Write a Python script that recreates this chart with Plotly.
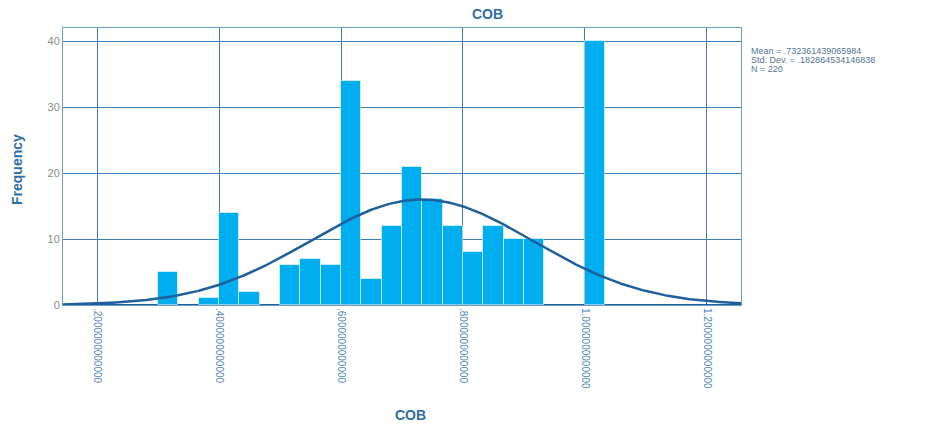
import numpy as np
import plotly.graph_objects as go

# Histogram of COB: lower bin edges (bin width 1/30) and frequencies
bin_width = 1 / 30
bin_starts = [0.3, 0.3667, 0.4, 0.4333, 0.5, 0.5333, 0.5667, 0.6, 0.6333,
              0.6667, 0.7, 0.7333, 0.7667, 0.8, 0.8333, 0.8667, 0.9, 1.0]
frequency = [5, 1, 14, 2, 6, 7, 6, 34, 4, 12, 21, 16, 12, 8, 12, 10, 10, 40]

# Summary statistics
mean = 0.732361439065984
std_dev = 0.182864534146838
n_obs = 220

x_ticks = [0.2, 0.4, 0.6, 0.8, 1.0, 1.2]
x_tick_text = [".2000000000000", ".4000000000000", ".6000000000000",
               ".8000000000000", "1.0000000000000", "1.2000000000000"]
y_ticks = [0, 10, 20, 30, 40]

x_range = [0.144, 1.256]
y_range = [0, 42]

bin_centers = [s + bin_width / 2 for s in bin_starts]

# Fitted normal curve scaled to counts
xs = np.linspace(x_range[0], x_range[1], 400)
ys = n_obs * bin_width * np.exp(-0.5 * ((xs - mean) / std_dev) ** 2) / (std_dev * np.sqrt(2 * np.pi))

fig = go.Figure()
fig.add_trace(go.Bar(
    x=bin_centers, y=frequency, width=bin_width,
    marker=dict(color="#00AEEF", line=dict(color="rgba(255,255,255,0.55)", width=1)),
    hoverinfo="x+y",
))
fig.add_trace(go.Scatter(
    x=xs, y=ys, mode="lines",
    line=dict(color="#1F5F9E", width=2.5),
    hoverinfo="skip",
))

grid_color = "#3D7DB8"
fig.update_layout(
    width=925, height=426,
    margin=dict(l=63, r=184, t=28, b=121),
    paper_bgcolor="white", plot_bgcolor="white",
    showlegend=False, bargap=0,
    font=dict(family="Liberation Sans, Arial, sans-serif"),
    xaxis=dict(
        range=x_range, tickvals=x_ticks, ticktext=x_tick_text,
        tickangle=90, tickfont=dict(size=10, color="#4F86B8"),
        showgrid=True, gridcolor=grid_color, gridwidth=1,
        showline=True, linecolor="#6A9CC8", linewidth=1, mirror=True,
        zeroline=False, ticks="",
    ),
    yaxis=dict(
        range=y_range, tickvals=y_ticks,
        tickfont=dict(size=11, color="#8C8C8C"),
        showgrid=True, gridcolor=grid_color, gridwidth=1,
        showline=True, linecolor="#6A9CC8", linewidth=1, mirror=True,
        zeroline=True, zerolinecolor="#1F5F9E", zerolinewidth=2, ticks="",
    ),
)

title_color = "#2E6DA6"
fig.add_annotation(text="<b>COB</b>", xref="paper", yref="paper",
                   x=(487 - 63) / 678, y=1, yshift=14, yanchor="middle",
                   showarrow=False, font=dict(size=14, color=title_color))
fig.add_annotation(text="<b>COB</b>", xref="paper", yref="paper",
                   x=(410 - 63) / 678, y=0, yshift=-110, yanchor="middle",
                   showarrow=False, font=dict(size=14, color=title_color))
fig.add_annotation(text="<b>Frequency</b>", xref="paper", yref="paper",
                   x=0, xshift=-46, xanchor="center", y=(305 - 170) / 277,
                   textangle=-90, showarrow=False,
                   font=dict(size=14, color=title_color))

stats_lines = [f"Mean = .{str(mean).split('.')[1]}",
               f"Std. Dev. = .{str(std_dev).split('.')[1]}",
               f"N = {n_obs}"]
for i, line in enumerate(stats_lines):
    fig.add_annotation(text=line, xref="paper", yref="paper",
                       x=1, xshift=8, xanchor="left",
                       y=1, yshift=-(23 + 9 * i), yanchor="middle",
                       showarrow=False,
                       font=dict(size=9, color="#55748F"))

fig.write_html("out.html")
